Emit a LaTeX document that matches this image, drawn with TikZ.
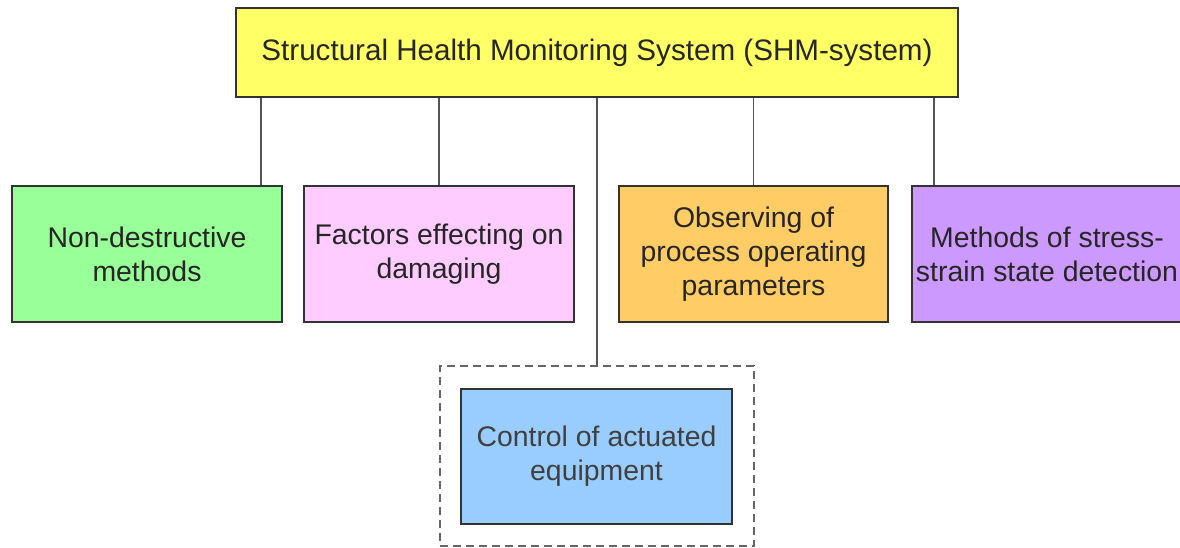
\documentclass[tikz,border=0pt]{standalone}
\usepackage{fontspec}
\setmainfont{Liberation Sans}
\usetikzlibrary{positioning}
\definecolor{TopYellow}{HTML}{FFFF66}
\definecolor{NdtGreen}{HTML}{99FF99}
\definecolor{FacPink}{HTML}{FFCCFF}
\definecolor{ObsOrange}{HTML}{FFCC66}
\definecolor{SsPurple}{HTML}{CC99FF}
\definecolor{CtrlBlue}{HTML}{99CCFF}
\definecolor{EdgeGray}{HTML}{333333}
\definecolor{LinkGray}{HTML}{555555}

\begin{document}
\begin{tikzpicture}[x=1pt,y=-1pt,
	block/.style={draw=EdgeGray,line width=1.8pt,minimum width=270pt,minimum height=136pt,
		align=center,text=black!85,font=\fontsize{28.4}{34}\selectfont,inner sep=2pt},
	group/.style={draw=LinkGray!90,line width=1.5pt,dash pattern=on 8pt off 5pt,
		minimum width=314pt,minimum height=180pt},
	link/.style={draw=LinkGray,line width=1.5pt}]
\clip (0,0) rectangle (1180,548);
\node[block,fill=TopYellow,minimum width=722pt,minimum height=89pt,font=\fontsize{29.6}{34}\selectfont] (shm) at (597,52.5)
	{Structural Health Monitoring System (SHM-system)};
\node[block,fill=NdtGreen] (ndt) at (147,254) {Non-destructive\\methods};
\node[block,fill=FacPink] (fac) at (439,254) {Factors effecting on\\damaging};
\node[block,fill=ObsOrange,minimum width=269pt] (obs) at (753.5,254) {Observing of\\process operating\\parameters};
\node[block,fill=SsPurple] (ssd) at (1047,254) {Methods of stress-\\strain state detection};
\node[group] (grp) at (597,456) {};
\node[block,fill=CtrlBlue,minimum width=271pt,minimum height=135pt,text=black!75] (ctrl) at (596.5,456.5)
	{Control of actuated\\equipment};
% tree links
\coordinate (ndtin) at ([xshift=-22pt]ndt.north east);
\coordinate (ssdin) at ([xshift=23pt]ssd.north west);
\draw[link] (shm.south -| ndtin) -- (ndtin);
\draw[link] (shm.south -| fac.north) -- (fac.north);
\draw[link] (shm.south) -- (grp.north);
\draw[link] (shm.south -| obs.north) -- (obs.north);
\draw[link] (shm.south -| ssdin) -- (ssdin);
\end{tikzpicture}
\end{document}
